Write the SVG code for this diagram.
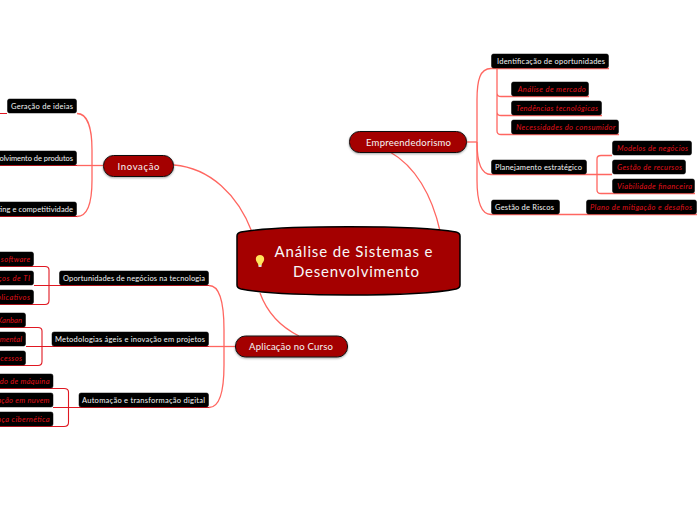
<svg xmlns="http://www.w3.org/2000/svg" width="697" height="520" viewBox="0 0 697 520">
<style>
text{font-family:"Lato","Noto Sans",sans-serif}
.c1{fill:none;stroke:#ff6660;stroke-width:1.300}
.c2{fill:none;stroke:#e01822;stroke-width:1.100}
.b{fill:#000;stroke:#000;stroke-width:.5}
.m{fill:#a40000;stroke:#111;stroke-width:1;filter:url(#s)}
.t1{font-size:7.500px;fill:#f4f4f4;text-anchor:middle}
.t3{font-size:7.500px;fill:#e0101a;font-style:italic;text-anchor:middle}
.t3e{font-size:7.500px;fill:#e0101a;font-style:italic;text-anchor:end}
.t2e{font-size:7.500px;fill:#f4f4f4;text-anchor:end}
.t0{font-size:9.500px;fill:#f6f6f6;text-anchor:middle}
.tc{font-size:15px;fill:#f8f8f8;text-anchor:middle}
</style>
<defs>
<filter id="s" x="-10%" y="-20%" width="120%" height="150%"><feDropShadow dx="0" dy="1" stdDeviation="1" flood-color="#000" flood-opacity=".35"/></filter>
</defs>
<rect width="697" height="520" fill="#fff"/>
<g id="connectors">
<path class="c1" d="M390 152C415 166 432 195 440 231"/>
<path class="c1" d="M174 165C210 168 238 195 252 232"/>
<path class="c1" d="M260 293C268 315 283 328 299 336"/>
<path class="c1" d="M466 142H477"/>
<path class="c1" d="M491 68.500C480 68.500 477 80 477 100V180C477 200 480 214.500 491 214.500H697"/>
<path class="c1" d="M491 174.500C482 174.500 477 165 477 142"/>
<path class="c1" d="M491 68.500H609"/>
<path class="c1" d="M491 174.500H612"/>
<path class="c1" d="M497 68.500V93Q497 96.500 501 96.500H589M497 90V112Q497 115.500 501 115.500H602M497 110V131Q497 134.500 501 134.500H619"/>
<path class="c1" d="M612 155.500H601Q597 155.500 597 159V190Q597 193.500 601 193.500H695"/>
<path class="c1" d="M103 165.500H77"/>
<path class="c1" d="M77 113.500C88 113.500 92 130 92 150V180C92 203 88 216.500 77 216.500"/>
<path class="c1" d="M235 346.500H209"/>
<path class="c1" d="M209 285.500C220 285.500 224 305 224 330V365C224 390 220 407.500 209 407.500"/>
<path class="c2" d="M0 113.500H7M0 165.500H77M0 216.500H77"/>
<path class="c2" d="M34 285.500H209M0 266.500H45Q49 266.500 49 270V300.500Q49 304.500 45 304.500H0"/>
<path class="c2" d="M26 346.500H209M0 327.500H38Q42 327.500 42 331V361.500Q42 365.500 38 365.500H0"/>
<path class="c2" d="M53 407.500H209M0 388.500H64Q68.500 388.500 68.500 392V422.500Q68.500 426.500 64 426.500H0"/>
</g>
<g id="central">
<path d="M237 236Q237 233 241 232C280 225 417 225 456 232Q460 233 460 236V285Q460 288 456 289C417 297 280 297 241 289Q237 288 237 285Z" fill="#a40000" stroke="#000" stroke-width="1.500"/>
<path d="M258.500 265.500C258 262.500 255.800 261.800 255.800 259C255.800 256.500 257.800 255 260 255C262.200 255 264.200 256.500 264.200 259C264.200 261.800 262 262.500 261.500 265.500Z" fill="#ffe45c"/>
<rect x="258.500" y="265" width="3" height="2" fill="#ddd"/>
<text class="tc" x="353.500" y="257" textLength="158">Análise de Sistemas e</text>
<text class="tc" x="356" y="277" textLength="126">Desenvolvimento</text>
</g>
<g id="n-empreendedorismo"><rect class="m" x="349.500" y="131.500" width="117" height="21" rx="10"/><text class="t0" x="408.500" y="145.500" textLength="85">Empreendedorismo</text></g>
<g id="n-inovacao"><rect class="m" x="103.500" y="155.500" width="70" height="21" rx="10"/><text class="t0" x="138.500" y="169.500" textLength="42">Inovação</text></g>
<g id="n-aplicacao"><rect class="m" x="235.500" y="336" width="112" height="21" rx="10"/><text class="t0" x="291" y="350" textLength="84">Aplicação no Curso</text></g>

<g id="n-identificacao"><rect class="b" x="491.500" y="54" width="117" height="14" rx="2"/><text class="t1" x="551" y="64" textLength="108">Identificação de oportunidades</text></g>
<g id="n-analise"><rect class="b" x="511.500" y="82" width="77" height="14" rx="2"/><text class="t3" x="551.700" y="92" textLength="68">Análise de mercado</text></g>
<g id="n-tendencias"><rect class="b" x="511.500" y="101" width="90" height="14" rx="2"/><text class="t3" x="557" y="111" textLength="82">Tendências tecnológicas</text></g>
<g id="n-necessidades"><rect class="b" x="511.500" y="120" width="107" height="14" rx="2"/><text class="t3" x="565.700" y="130" textLength="99.500">Necessidades do consumidor</text></g>
<g id="n-planejamento"><rect class="b" x="491.500" y="160" width="95" height="14" rx="2"/><text class="t1" x="538.500" y="170" textLength="87">Planejamento estratégico</text></g>
<g id="n-modelos"><rect class="b" x="612.500" y="141" width="79" height="14" rx="2"/><text class="t3" x="652.500" y="151" textLength="71">Modelos de negócios</text></g>
<g id="n-recursos"><rect class="b" x="612.500" y="160" width="73" height="14" rx="2"/><text class="t3" x="649.500" y="170" textLength="65">Gestão de recursos</text></g>
<g id="n-viabilidade"><rect class="b" x="612.500" y="179" width="82" height="14" rx="2"/><text class="t3" x="654.500" y="189" textLength="75">Viabilidade financeira</text></g>
<g id="n-riscos"><rect class="b" x="491.500" y="200" width="68" height="14" rx="2"/><text class="t1" x="524.500" y="210" textLength="59">Gestão de Riscos</text></g>
<g id="n-plano"><rect class="b" x="586.500" y="200" width="110" height="14" rx="2"/><text class="t3" x="641" y="210" textLength="102">Plano de mitigação e desafios</text></g>

<g id="n-geracao"><rect class="b" x="7.500" y="99" width="69" height="14" rx="2"/><text class="t1" x="42" y="109" textLength="62">Geração de ideias</text></g>
<g id="n-desenvolvimento"><rect class="b" x="-40" y="151" width="116.500" height="14" rx="2"/><text class="t2e" x="73" y="161" textLength="98">Desenvolvimento de produtos</text></g>
<g id="n-marketing"><rect class="b" x="-40" y="202" width="116.500" height="14" rx="2"/><text class="t2e" x="73" y="212" textLength="97">Marketing e competitividade</text></g>

<g id="n-oportunidades"><rect class="b" x="59.500" y="271" width="149" height="14" rx="2"/><text class="t1" x="134" y="281" textLength="142">Oportunidades de negócios na tecnologia</text></g>
<g id="n-soft"><rect class="b" x="-40" y="252" width="73.500" height="14" rx="2"/><text class="t3e" x="30" y="262" textLength="101">Desenvolvimento de software</text></g>
<g id="n-ti"><rect class="b" x="-40" y="271" width="73.500" height="14" rx="2"/><text class="t3e" x="30" y="281" textLength="50">Serviços de TI</text></g>
<g id="n-apps"><rect class="b" x="-40" y="290" width="73.500" height="14" rx="2"/><text class="t3e" x="30" y="300" textLength="78">Criação de aplicativos</text></g>

<g id="n-metodologias"><rect class="b" x="52" y="332" width="156.500" height="14" rx="2"/><text class="t1" x="130" y="342" textLength="150">Metodologias ágeis e inovação em projetos</text></g>
<g id="n-kanban"><rect class="b" x="-40" y="313" width="65.500" height="14" rx="2"/><text class="t3e" x="22" y="323" textLength="52">Scrum e Kanban</text></g>
<g id="n-incremental"><rect class="b" x="-40" y="332" width="65.500" height="14" rx="2"/><text class="t3e" x="22" y="342" textLength="96">Desenvolvimento incremental</text></g>
<g id="n-processos"><rect class="b" x="-40" y="351" width="65.500" height="14" rx="2"/><text class="t3e" x="22" y="361" textLength="76">Melhoria de processos</text></g>

<g id="n-automacao"><rect class="b" x="79" y="393" width="129.500" height="14" rx="2"/><text class="t1" x="143.500" y="403" textLength="123">Automação e transformação digital</text></g>
<g id="n-maquina"><rect class="b" x="-40" y="374" width="93" height="14" rx="2"/><text class="t3e" x="49.500" y="384" textLength="84">Aprendizado de máquina</text></g>
<g id="n-nuvem"><rect class="b" x="-40" y="393" width="93" height="14" rx="2"/><text class="t3e" x="49.500" y="403" textLength="79">Computação em nuvem</text></g>
<g id="n-ciber"><rect class="b" x="-40" y="412" width="93" height="14" rx="2"/><text class="t3e" x="49.500" y="422" textLength="76">Segurança cibernética</text></g>
</svg>
